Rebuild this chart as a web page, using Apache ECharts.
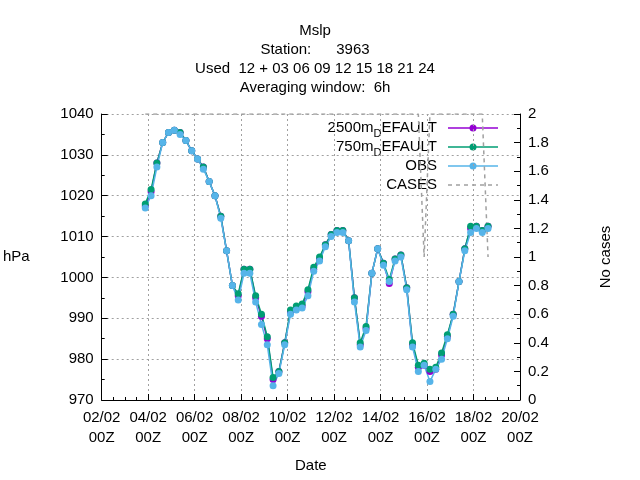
<!DOCTYPE html>
<html>
<head>
<meta charset="utf-8">
<script src="https://cdn.jsdelivr.net/npm/echarts@6/dist/echarts.min.js"></script>
<style>html,body{margin:0;background:#fff}#main{width:640px;height:480px}</style>
</head>
<body>
<div id="main"></div>
<script>
// hours since 02/02 00Z
const hours = [45,51,57,63,69,75,81,87,93,99,105,111,117,123,129,135,141,147,153,159,
  165,171,177,183,189,195,201,207,213,219,225,231,237,243,249,255,261,267,273,279,
  285,291,297,303,309,315,321,327,333,339,345,351,357,363,369,375,381,387,393,399];
const obs = [1017,1020,1027,1033,1035.5,1036,1035,1033.5,1031,1029,1026.5,1023.5,1020,1014.5,1006.5,998,994.5,1001,1001,994,
  988.5,983.5,973.5,976.5,983.5,991,992,992.5,995.5,1001.5,1004,1007.5,1010,1011,1011,1009,994,983,987,1001,
  1007,1003,999,1004,1005,997,983,977,978.5,974.5,977.5,980,985,990.5,999,1006.5,1011,1012,1011,1012];
const m750 = [1018,1021.5,1028,1033,1035.5,1036,1035.5,1033.5,1031,1029,1027,1023.5,1020,1015,1006.5,998,996,1002,1002,995.5,
  991,985.5,975.5,977,984,992,993,993.5,997,1002.5,1005,1008,1010.5,1011.5,1011.5,1009,995,984,988,1001,
  1007,1003.5,999.5,1004.5,1005.5,997.5,984,978.5,979,977.5,978,981.5,986,991,999,1007,1012.5,1012.5,1011.5,1012.5];
const m2500 = [1017.5,1021,1028,1033,1035.5,1036,1035.5,1033.5,1031,1029,1027,1023.5,1020,1015,1006.5,998,995.5,1002,1002,995,
  990.5,985,975,977,984,991.5,992.5,993,996.5,1002,1004.5,1008,1010.5,1011.5,1011.5,1009,995,983.5,987.5,1001,
  1007,1003.5,998.5,1004.5,1005.5,997.5,983.5,978,978.5,977,977.5,981,985.5,991,999,1007,1012,1012.5,1011.5,1012.5];
const cases = [2,2,2,2,2,2,2,2,2,2,2,2,2,2,2,2,2,2,2,2,
  2,2,2,2,2,2,2,2,2,2,2,2,2,2,2,2,2,2,2,2,
  2,2,2,2,2,2,2,2,1,2,2,2,2,2,2,2,2,2,2,1];
const titleLines = ['Mslp', 'Station:      3963', 'Used  12 + 03 06 09 12 15 18 21 24', 'Averaging window:  6h'];
const legendItems = [
  { name: '2500m{s|D}EFAULT', color: '#9400d3', marker: true },
  { name: '750m{s|D}EFAULT', color: '#009e73', marker: true },
  { name: 'OBS', color: '#56b4e9', marker: true },
  { name: 'CASES', color: '#a0a0a0', marker: false }
];

const pair = a => hours.map((h, i) => [h, a[i]]);
const font = 'Liberation Sans';
const chart = echarts.init(document.getElementById('main'));
const line = (name, data, color) => ({
  name, type: 'line', data: pair(data), symbol: 'circle', symbolSize: 7,
  itemStyle: { color }, lineStyle: { color, width: 1.5 }
});
const fmtX = v => String(2 + Math.floor(v / 24)).padStart(2, '0') + '/02\n00Z';
const gridLine = { show: true, lineStyle: { color: '#a0a0a0', type: [2, 3], width: 1 } };

// legend drawn as graphic elements
const legendGraphics = [];
legendItems.forEach((it, i) => {
  const y = 128 + i * 19;
  legendGraphics.push({
    type: 'text', x: 437, y, style: {
      text: it.name, align: 'right', verticalAlign: 'middle', fill: '#000',
      font: '15px ' + font,
      rich: { s: { fontSize: 11, fontFamily: font, fill: '#000', padding: [12, 0, 0, 0] } }
    }
  });
  legendGraphics.push({
    type: 'line', shape: { x1: 448, y1: y, x2: 498, y2: y },
    style: { stroke: it.color, lineWidth: 1.5, lineDash: it.marker ? null : [4, 4] }
  });
  if (it.marker) legendGraphics.push({ type: 'circle', shape: { cx: 473, cy: y, r: 3.5 }, style: { fill: it.color } });
});

chart.setOption({
  animation: false,
  textStyle: { fontFamily: font },
  title: {
    text: titleLines.join('\n'), left: 310, textAlign: 'center', top: 16,
    textStyle: { fontSize: 15, fontWeight: 'normal', color: '#000', lineHeight: 19, fontFamily: font }
  },
  grid: { left: 100, right: 120, top: 114, bottom: 80 },
  graphic: legendGraphics,
  xAxis: {
    type: 'value', min: 0, max: 432, interval: 48,
    name: 'Date', nameLocation: 'middle', nameGap: 58,
    nameTextStyle: { fontSize: 15, color: '#000' },
    axisLine: { lineStyle: { color: '#000' } },
    axisTick: { inside: true, length: 6, lineStyle: { color: '#000' } },
    minorTick: { show: true, splitNumber: 4, length: 3, lineStyle: { color: '#000' } },
    axisLabel: { formatter: fmtX, fontSize: 15, color: '#000', lineHeight: 20, margin: 8 },
    splitLine: gridLine
  },
  yAxis: [{
    type: 'value', min: 970, max: 1040, interval: 10,
    name: 'hPa', nameLocation: 'middle', nameGap: 72, nameRotate: 0,
    nameTextStyle: { fontSize: 15, color: '#000' },
    axisLine: { show: true, lineStyle: { color: '#000' } },
    axisTick: { inside: true, length: 6, lineStyle: { color: '#000' } },
    minorTick: { show: true, splitNumber: 2, length: 3, lineStyle: { color: '#000' } },
    axisLabel: { fontSize: 15, color: '#000', margin: 8, formatter: v => String(v) },
    splitLine: gridLine
  }, {
    type: 'value', min: 0, max: 2, interval: 0.2,
    name: 'No cases', nameLocation: 'middle', nameGap: 78, nameRotate: 90,
    nameTextStyle: { fontSize: 15, color: '#000' },
    axisLine: { show: true, lineStyle: { color: '#000' } },
    axisTick: { inside: true, length: 6, lineStyle: { color: '#000' } },
    minorTick: { show: true, splitNumber: 2, length: 3, lineStyle: { color: '#000' } },
    axisLabel: { fontSize: 15, color: '#000', margin: 8, formatter: v => String(+v.toFixed(1)) },
    splitLine: { show: false }
  }],
  series: [
    line('2500m_DEFAULT', m2500, '#9400d3'),
    line('750m_DEFAULT', m750, '#009e73'),
    line('OBS', obs, '#56b4e9'),
    {
      name: 'CASES', type: 'line', yAxisIndex: 1, data: pair(cases), symbol: 'none',
      itemStyle: { color: '#a0a0a0' },
      lineStyle: { color: '#a0a0a0', width: 1.5, type: [4, 4] }
    }
  ]
});
</script>
</body>
</html>
